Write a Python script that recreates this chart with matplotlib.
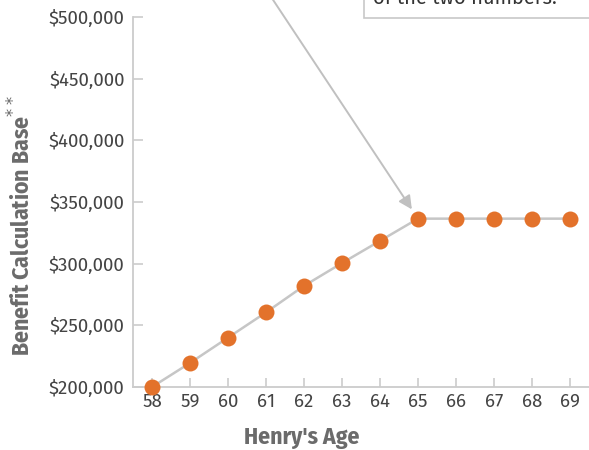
import matplotlib
matplotlib.use('agg')
import matplotlib.pyplot as plt
from matplotlib.patches import Rectangle
from matplotlib.ticker import FuncFormatter

ages = [58, 59, 60, 61, 62, 63, 64, 65, 66, 67, 68, 69]
benefit_base = [200000, 219500, 240000, 260500, 282000, 300500, 318500,
                336500, 336500, 336500, 336500, 336500]
y_ticks = [200000, 250000, 300000, 350000, 400000, 450000, 500000]
note_text = 'of the two numbers.'

W, H = 589, 450
fig = plt.figure(figsize=(W / 100, H / 100), dpi=100)
ax = fig.add_axes([133 / W, (H - 387) / H, (W - 133) / W, (387 - 17) / H])

line_grey = '#c6c6c6'
orange = '#e3722b'

ax.plot(ages, benefit_base, color=line_grey, linewidth=1.8, zorder=2,
        clip_on=False)
ax.plot(ages, benefit_base, linestyle='none', marker='o', markersize=11.5,
        color=orange, markeredgewidth=0, zorder=3, clip_on=False)

ax.set_xlim(57.5, 69.5)
ax.set_ylim(200000, 500000)
ax.set_xticks(ages)
ax.set_yticks(y_ticks)
ax.yaxis.set_major_formatter(FuncFormatter(lambda v, p: f'${v:,.0f}'))

for side in ['top', 'right']:
    ax.spines[side].set_visible(False)
for side in ['left', 'bottom']:
    ax.spines[side].set_color('#cccccc')
    ax.spines[side].set_linewidth(1.3)

ax.tick_params(axis='both', direction='in', color='#cccccc', width=1.2,
               labelcolor='#444444', labelsize=13.5)
ax.tick_params(axis='x', length=6.5, pad=4)
ax.tick_params(axis='y', length=7, pad=6)
for lab in ax.get_xticklabels() + ax.get_yticklabels():
    lab.set_fontfamily('Fira Sans')

title_font = dict(family=['Fira Sans Condensed', 'DejaVu Sans'],
                  weight='bold', size=17, color='#6b6b6b')
fig.text(302 / W, (H - 437) / H, "Henry's Age", ha='center', va='center',
         **title_font)
fig.text(22 / W, (H - 226) / H, 'Benefit Calculation Base$^{**}$',
         rotation=90, ha='center', va='center', **title_font)

# arrow coming down from the (cropped) note
ax.annotate('', xy=(ages[7], benefit_base[7]), xycoords='data',
            xytext=(240, 500), textcoords='figure pixels',
            arrowprops=dict(arrowstyle='-|>', color='#c0c0c0', lw=1.4,
                            mutation_scale=20, shrinkA=0, shrinkB=8),
            annotation_clip=False, zorder=1)

# note box, mostly cropped off the top of the picture
fig.patches.append(Rectangle((364 / W, (H - 18) / H), 300 / W, 100 / H,
                             transform=fig.transFigure, facecolor='white',
                             edgecolor='#c8c8c8', linewidth=1.2))
fig.text(373 / W, (H - 4) / H, note_text, ha='left', va='baseline',
         fontsize=14.5, color='#333333', family='Fira Sans')

fig.savefig('out.png', dpi=100)
